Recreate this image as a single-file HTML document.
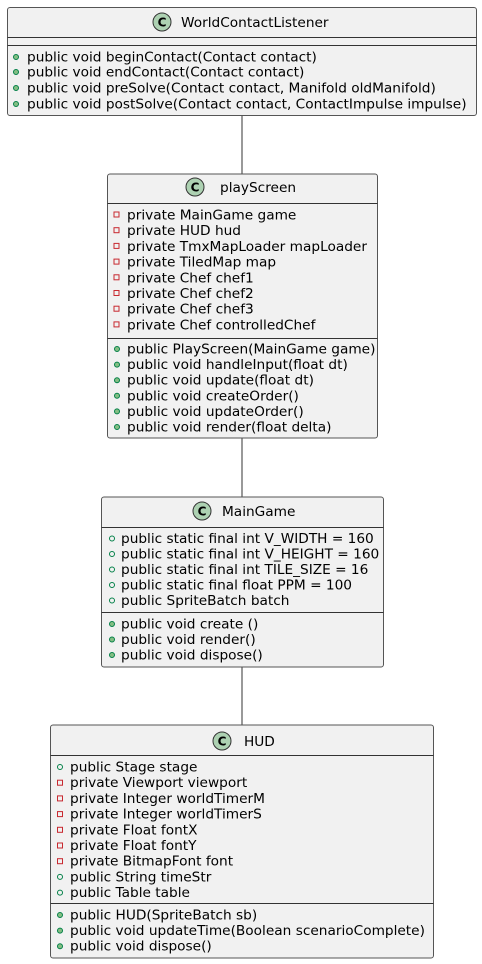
<!DOCTYPE html>
<html><head><meta charset="utf-8"><style>
html,body{margin:0;padding:0;background:#fff;}
svg{display:block;}
text{font-family:"DejaVu Sans","Liberation Sans",sans-serif;font-size:13.7px;fill:#000;}
.b{fill:#F1F1F1;stroke:#555;stroke-width:1;}
.s{stroke:#333;stroke-width:1;}
.ci{fill:#ADD1B2;stroke:#333;stroke-width:1;}
.pm{fill:#84BE84;stroke:#038048;stroke-width:1;}
.pf{fill:none;stroke:#038048;stroke-width:1;}
.pr{fill:none;stroke:#C82930;stroke-width:1;}
.C{font-weight:bold;font-size:12px;}
</style></head><body>
<svg width="482" height="964" viewBox="0 0 482 964" xmlns="http://www.w3.org/2000/svg">
<line class="s" x1="242" y1="115" x2="242" y2="174"/>
<line class="s" x1="242" y1="438" x2="242" y2="497"/>
<line class="s" x1="242" y1="667" x2="242" y2="725"/>

<!-- Box 1 -->
<rect class="b" x="7.5" y="7.5" width="469" height="108" rx="2.5"/>
<circle class="ci" cx="162" cy="22" r="9"/><text class="C" x="162" y="26.5" text-anchor="middle">C</text>
<text x="181" y="27">WorldContactListener</text>
<line class="s" x1="7.5" y1="37.5" x2="476.5" y2="37.5"/>
<line class="s" x1="7.5" y1="45.5" x2="476.5" y2="45.5"/>
<circle class="pm" cx="16" cy="57" r="2.5"/><text x="27" y="61.5">public void beginContact(Contact contact)</text>
<circle class="pm" cx="16" cy="72" r="2.5"/><text x="27" y="76.5">public void endContact(Contact contact)</text>
<circle class="pm" cx="16" cy="88" r="2.5"/><text x="27" y="92.5">public void preSolve(Contact contact, Manifold oldManifold)</text>
<circle class="pm" cx="16" cy="104" r="2.5"/><text x="27" y="108.5">public void postSolve(Contact contact, ContactImpulse impulse)</text>

<!-- Box 2 -->
<rect class="b" x="107.5" y="174" width="270" height="264" rx="2.5"/>
<circle class="ci" cx="195" cy="187" r="9"/><text class="C" x="195" y="191.5" text-anchor="middle">C</text>
<text x="220" y="192">playScreen</text>
<line class="s" x1="107.5" y1="203.5" x2="377.5" y2="203.5"/>
<rect class="pr" x="114" y="212" width="5" height="5"/><text x="127" y="219.5">private MainGame game</text>
<rect class="pr" x="114" y="227.7" width="5" height="5"/><text x="127" y="235.2">private HUD hud</text>
<rect class="pr" x="114" y="243.4" width="5" height="5"/><text x="127" y="250.9">private TmxMapLoader mapLoader</text>
<rect class="pr" x="114" y="259.1" width="5" height="5"/><text x="127" y="266.6">private TiledMap map</text>
<rect class="pr" x="114" y="274.8" width="5" height="5"/><text x="127" y="282.3">private Chef chef1</text>
<rect class="pr" x="114" y="290.5" width="5" height="5"/><text x="127" y="298">private Chef chef2</text>
<rect class="pr" x="114" y="306.2" width="5" height="5"/><text x="127" y="313.7">private Chef chef3</text>
<rect class="pr" x="114" y="321.9" width="5" height="5"/><text x="127" y="329.4">private Chef controlledChef</text>
<line class="s" x1="107.5" y1="338.5" x2="377.5" y2="338.5"/>
<circle class="pm" cx="117" cy="349" r="2.5"/><text x="127" y="353.5">public PlayScreen(MainGame game)</text>
<circle class="pm" cx="117" cy="364.6" r="2.5"/><text x="127" y="369.1">public void handleInput(float dt)</text>
<circle class="pm" cx="117" cy="380.2" r="2.5"/><text x="127" y="384.7">public void update(float dt)</text>
<circle class="pm" cx="117" cy="395.8" r="2.5"/><text x="127" y="400.3">public void createOrder()</text>
<circle class="pm" cx="117" cy="411.4" r="2.5"/><text x="127" y="415.9">public void updateOrder()</text>
<circle class="pm" cx="117" cy="427" r="2.5"/><text x="127" y="431.5">public void render(float delta)</text>

<!-- Box 3 -->
<rect class="b" x="101.5" y="497" width="282" height="170" rx="2.5"/>
<circle class="ci" cx="202" cy="511" r="9"/><text class="C" x="202" y="515.5" text-anchor="middle">C</text>
<text x="222" y="516">MainGame</text>
<line class="s" x1="101.5" y1="527.5" x2="383.5" y2="527.5"/>
<circle class="pf" cx="112" cy="538.5" r="2.5"/><text x="121" y="543">public static final int V_WIDTH = 160</text>
<circle class="pf" cx="112" cy="554" r="2.5"/><text x="121" y="558.5">public static final int V_HEIGHT = 160</text>
<circle class="pf" cx="112" cy="569.5" r="2.5"/><text x="121" y="574">public static final int TILE_SIZE = 16</text>
<circle class="pf" cx="112" cy="585" r="2.5"/><text x="121" y="589.5">public static final float PPM = 100</text>
<circle class="pf" cx="112" cy="600.5" r="2.5"/><text x="121" y="605">public SpriteBatch batch</text>
<line class="s" x1="101.5" y1="612.5" x2="383.5" y2="612.5"/>
<circle class="pm" cx="112" cy="624" r="2.5"/><text x="121" y="628.5">public void create ()</text>
<circle class="pm" cx="112" cy="639.5" r="2.5"/><text x="121" y="644">public void render()</text>
<circle class="pm" cx="112" cy="655" r="2.5"/><text x="121" y="659.5">public void dispose()</text>

<!-- Box 4 -->
<rect class="b" x="50.5" y="725" width="383" height="233" rx="2.5"/>
<circle class="ci" cx="222" cy="741" r="9"/><text class="C" x="222" y="745.5" text-anchor="middle">C</text>
<text x="244" y="746">HUD</text>
<line class="s" x1="50.5" y1="755.5" x2="433.5" y2="755.5"/>
<circle class="pf" cx="60" cy="767" r="2.5"/><text x="70" y="771.5">public Stage stage</text>
<rect class="pr" x="57.5" y="780.2" width="5" height="5"/><text x="70" y="787.2">private Viewport viewport</text>
<rect class="pr" x="57.5" y="795.9" width="5" height="5"/><text x="70" y="802.9">private Integer worldTimerM</text>
<rect class="pr" x="57.5" y="811.6" width="5" height="5"/><text x="70" y="818.6">private Integer worldTimerS</text>
<rect class="pr" x="57.5" y="827.3" width="5" height="5"/><text x="70" y="834.3">private Float fontX</text>
<rect class="pr" x="57.5" y="843" width="5" height="5"/><text x="70" y="850">private Float fontY</text>
<rect class="pr" x="57.5" y="858.7" width="5" height="5"/><text x="70" y="865.7">private BitmapFont font</text>
<circle class="pf" cx="60" cy="876.9" r="2.5"/><text x="70" y="881.4">public String timeStr</text>
<circle class="pf" cx="60" cy="892.6" r="2.5"/><text x="70" y="897.1">public Table table</text>
<line class="s" x1="50.5" y1="903.5" x2="433.5" y2="903.5"/>
<circle class="pm" cx="60" cy="915" r="2.5"/><text x="70" y="919.5">public HUD(SpriteBatch sb)</text>
<circle class="pm" cx="60" cy="930.6" r="2.5"/><text x="70" y="935.1">public void updateTime(Boolean scenarioComplete)</text>
<circle class="pm" cx="60" cy="946.2" r="2.5"/><text x="70" y="950.7">public void dispose()</text>
</svg>
</body></html>
